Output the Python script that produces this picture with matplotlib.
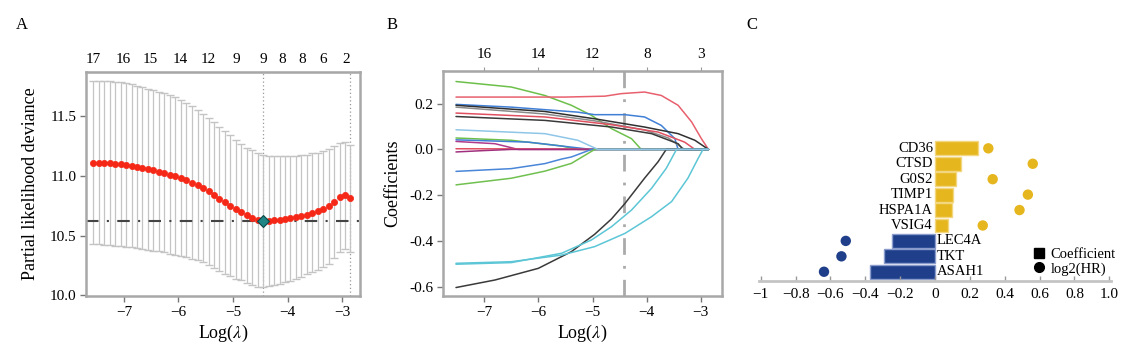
import matplotlib
matplotlib.use("Agg")
import matplotlib.pyplot as plt
import numpy as np
from matplotlib.lines import Line2D
from matplotlib.ticker import FormatStrFormatter

plt.rcParams['font.family'] = ['Liberation Serif', 'DejaVu Serif']
plt.rcParams['mathtext.fontset'] = 'stix'

# ---- panel A: cross-validation curve ----
cv_loglam = [-7.56, -7.46, -7.36, -7.26, -7.16, -7.06, -6.96, -6.86, -6.76, -6.66,
             -6.56, -6.46, -6.36, -6.26, -6.16, -6.06, -5.96, -5.86, -5.76, -5.65,
             -5.55, -5.45, -5.35, -5.25, -5.15, -5.05, -4.95, -4.85, -4.75, -4.65,
             -4.55, -4.45, -4.35, -4.25, -4.15, -4.05, -3.95, -3.85, -3.75, -3.65,
             -3.55, -3.45, -3.35, -3.25, -3.15, -3.05, -2.95, -2.85]
cv_mean = [11.11, 11.11, 11.11, 11.105, 11.10, 11.10, 11.09, 11.085, 11.075, 11.065,
           11.055, 11.045, 11.035, 11.025, 11.01, 10.997, 10.98, 10.962, 10.943, 10.922,
           10.897, 10.87, 10.84, 10.805, 10.78, 10.75, 10.72, 10.695, 10.67, 10.65,
           10.63, 10.62, 10.622, 10.627, 10.632, 10.638, 10.645, 10.653, 10.662, 10.675,
           10.69, 10.703, 10.72, 10.745, 10.78, 10.82, 10.835, 10.81]
cv_sd = [0.683, 0.684, 0.685, 0.685, 0.685, 0.685, 0.684, 0.682, 0.679, 0.676,
         0.674, 0.671, 0.668, 0.665, 0.662, 0.658, 0.652, 0.645, 0.637, 0.628,
         0.620, 0.615, 0.610, 0.605, 0.597, 0.588, 0.580, 0.570, 0.566, 0.562,
         0.558, 0.553, 0.547, 0.541, 0.535, 0.529, 0.522, 0.515, 0.508, 0.500,
         0.496, 0.491, 0.486, 0.480, 0.470, 0.455, 0.448, 0.444]
a_top_pos = [-7.56, -7.01, -6.52, -5.97, -5.46, -4.95, -4.45, -4.10, -3.73, -3.35, -2.92]
a_top_lab = ['17', '16', '15', '14', '12', '9', '9', '8', '8', '6', '2']

# ---- panel B: coefficient paths (log lambda knots, coefficient) ----
green1_x = [-7.52, -6.5, -5.88, -5.39, -5.02, -4.65, -4.28, -4.10, -2.86]
green1_y = [0.297, 0.273, 0.236, 0.193, 0.149, 0.091, 0.047, 0.0, 0.0]
red1_x = [-7.52, -5.5, -4.77, -4.47, -4.04, -3.73, -3.42, -3.17, -2.99, -2.86]
red1_y = [0.229, 0.229, 0.233, 0.244, 0.251, 0.236, 0.193, 0.12, 0.047, 0.0]
blue1_x = [-7.52, -6.5, -5.27, -4.96, -4.40, -4.04, -3.73, -3.48, -3.42, -2.86]
blue1_y = [0.197, 0.185, 0.163, 0.152, 0.152, 0.142, 0.105, 0.047, 0.0, 0.0]
black1_x = [-7.52, -5.88, -4.96, -4.04, -3.42, -3.11, -2.86]
black1_y = [0.193, 0.166, 0.134, 0.098, 0.069, 0.04, 0.0]
gray1_x = [-7.52, -5.88, -4.96, -4.04, -3.6, -3.30, -2.86]
gray1_y = [0.185, 0.155, 0.125, 0.085, 0.05, 0.0, 0.0]
red2_x = [-7.52, -5.88, -4.65, -3.79, -3.30, -3.11, -2.86]
red2_y = [0.159, 0.142, 0.108, 0.076, 0.032, 0.0, 0.0]
black2_x = [-7.52, -5.88, -4.65, -3.91, -3.42, -3.33, -2.86]
black2_y = [0.144, 0.127, 0.098, 0.069, 0.025, 0.0, 0.0]
green2_x = [-7.52, -6.5, -5.57, -5.27, -2.86]
green2_y = [0.05, 0.04, 0.015, 0.0, 0.0]
blue2_x = [-7.52, -6.19, -5.39, -5.02, -2.86]
blue2_y = [0.042, 0.032, 0.01, 0.0, 0.0]
magenta1_x = [-7.52, -6.80, -6.37, -2.86]
magenta1_y = [0.035, 0.025, 0.0, 0.0]
red3_x = [-7.52, -5.5, -5.0]
red3_y = [0.003, 0.002, 0.0]
magenta2_x = [-7.52, -7.0, -6.5, -2.86]
magenta2_y = [-0.011, -0.005, 0.0, 0.0]
blue3_x = [-7.52, -6.5, -5.88, -5.57, -5.39, -5.02, -2.86]
blue3_y = [-0.096, -0.084, -0.062, -0.042, -0.033, 0.0, 0.0]
green3_x = [-7.52, -6.5, -5.88, -5.39, -5.08, -4.96, -2.86]
green3_y = [-0.155, -0.126, -0.095, -0.061, -0.017, 0.0, 0.0]
black3_x = [-7.52, -6.80, -6.0, -5.39, -4.96, -4.65, -4.40, -4.04, -3.79, -3.64, -2.86]
black3_y = [-0.604, -0.571, -0.52, -0.447, -0.371, -0.304, -0.236, -0.126, -0.054, 0.0, 0.0]
cyan2_x = [-7.52, -6.5, -5.57, -4.96, -4.40, -3.91, -3.54, -3.24, -3.05, -2.96, -2.86]
cyan2_y = [-0.498, -0.491, -0.462, -0.425, -0.367, -0.294, -0.228, -0.126, -0.039, 0.0, 0.0]
cyan3_x = [-7.52, -6.5, -5.57, -5.02, -4.65, -4.28, -3.91, -3.64, -3.45, -2.86]
cyan3_y = [-0.502, -0.495, -0.454, -0.396, -0.338, -0.265, -0.170, -0.083, 0.0, 0.0]
cyan1_x = [-7.52, -5.88, -5.27, -4.90, -2.86]
cyan1_y = [0.086, 0.069, 0.040, 0.0, 0.0]
b_top_pos = [-7, -6, -5, -4, -3]
b_top_lab = ['16', '14', '12', '8', '3']
b_cut = -4.42

# ---- panel C: coefficients and log2(HR) ----
genes = ['ASAH1', 'TKT', 'LEC4A', 'VSIG4', 'HSPA1A', 'TIMP1', 'G0S2', 'CTSD', 'CD36']
coef = [-0.372, -0.291, -0.249, 0.073, 0.096, 0.105, 0.121, 0.149, 0.245]
log2hr = [-0.637, -0.537, -0.512, 0.274, 0.485, 0.533, 0.331, 0.561, 0.306]
c_ticks = [-1, -0.8, -0.6, -0.4, -0.2, 0, 0.2, 0.4, 0.6, 0.8, 1.0]
c_ticklab = ['\u22121', '\u22120.8', '\u22120.6', '\u22120.4', '\u22120.2', '0',
             '0.2', '0.4', '0.6', '0.8', '1.0']

W, H = 1139, 350
fig = plt.figure(figsize=(W / 100, H / 100), dpi=100)

def frame(ax):
    for s in ax.spines.values():
        s.set_color('#a8a8a8')
        s.set_linewidth(1.8)
    ax.tick_params(labelsize=11, length=4, width=1, color='#777777', pad=3)

# A
axA = fig.add_axes([86 / W, 54 / H, 274 / W, 224 / H])
frame(axA)
x = np.array(cv_loglam)
m = np.array(cv_mean)
sd = np.array(cv_sd)
axA.errorbar(x, m, yerr=sd, fmt='none', ecolor='#c4c4c4', elinewidth=0.9,
             capsize=2.6, capthick=1.0, zorder=1)
imin = int(np.argmin(m))
ok = np.where(m <= m[imin] + sd[imin])[0]
i1se = int(ok.max())
axA.axvline(x[imin], color='#999999', lw=0.9, ls=(0, (1, 2)), zorder=0)
axA.axvline(x[i1se], color='#999999', lw=0.9, ls=(0, (1, 2)), zorder=0)
axA.axhline(m[imin], color='#444444', lw=1.5, ls=(0, (6, 4, 1, 4)), zorder=2)
axA.plot(x, m, 'o', color='#f52818', ms=4.5, mec='#f52818', mew=0.5, zorder=3)
axA.plot(x[imin], m[imin], 'D', color='#1f8585', ms=6, mec='#0e4747', mew=0.8, zorder=4)
axA.set_xlim(-7.694, -2.676)
axA.set_ylim(9.995, 11.867)
axA.set_xticks([-7, -6, -5, -4, -3])
axA.set_yticks([10.0, 10.5, 11.0, 11.5])
axA.yaxis.set_major_formatter(FormatStrFormatter('%.1f'))
axA.set_xticklabels(['\u22127', '\u22126', '\u22125', '\u22124', '\u22123'])
axA.set_xlabel(r'Log($\lambda$)', fontsize=13, labelpad=3)
axA.set_ylabel('Partial likelihood deviance', fontsize=13, labelpad=8)
topA = axA.secondary_xaxis('top')
topA.set_xticks(a_top_pos)
topA.set_xticklabels(a_top_lab)
topA.tick_params(labelsize=11, length=0, pad=4)

# B
axB = fig.add_axes([443 / W, 54 / H, 279 / W, 225 / H])
frame(axB)
paths = [
    (green1_x, green1_y, '#6cc04a'), (red1_x, red1_y, '#e8606e'),
    (blue1_x, blue1_y, '#3f7fd6'), (black1_x, black1_y, '#303030'),
    (gray1_x, gray1_y, '#8a8a8a'), (red2_x, red2_y, '#e05060'),
    (black2_x, black2_y, '#3a3a3a'), (green2_x, green2_y, '#6cc04a'),
    (blue2_x, blue2_y, '#3f7fd6'), (magenta1_x, magenta1_y, '#b03a8c'),
    (red3_x, red3_y, '#e05060'), (magenta2_x, magenta2_y, '#a0307e'),
    (blue3_x, blue3_y, '#4a86d8'), (green3_x, green3_y, '#70c050'),
    (black3_x, black3_y, '#3a3a3a'), (cyan2_x, cyan2_y, '#5cc6d6'),
    (cyan3_x, cyan3_y, '#5cc6d6'), (cyan1_x, cyan1_y, '#8fc6e8'),
]
for px, py, col in paths:
    axB.plot(px, py, color=col, lw=1.1, solid_capstyle='round')
axB.axvline(b_cut, color='#aaaaaa', lw=2, ls=(0, (6, 4, 1, 4)), zorder=0)
axB.set_xlim(-7.76, -2.61)
axB.set_ylim(-0.641, 0.343)
axB.set_xticks([-7, -6, -5, -4, -3])
axB.set_xticklabels(['\u22127', '\u22126', '\u22125', '\u22124', '\u22123'])
axB.set_yticks([-0.6, -0.4, -0.2, 0.0, 0.2])
axB.yaxis.set_major_formatter(FormatStrFormatter('%.1f'))
axB.set_xlabel(r'Log($\lambda$)', fontsize=13, labelpad=3)
axB.set_ylabel('Coefficients', fontsize=13, labelpad=6)
topB = axB.secondary_xaxis('top')
topB.set_xticks(b_top_pos)
topB.set_xticklabels(b_top_lab)
topB.tick_params(labelsize=11, length=3, color='#999999', pad=4)

# C
axC = fig.add_axes([759 / W, (H - 280.7) / H, 352 / W, (280.7 - 138) / H])
pos = np.arange(len(genes))
cols = ['#1f3f8a' if v < 0 else '#e6b61e' for v in coef]
edges = ['#8a9ccc' if v < 0 else '#f2d680' for v in coef]
axC.barh(pos, coef, height=0.9, color=cols, edgecolor=edges, linewidth=1)
axC.scatter(log2hr, pos, s=56, color=cols, zorder=3, edgecolors='none')
for i, g in enumerate(genes):
    if coef[i] > 0:
        axC.annotate(g, (0, pos[i]), xytext=(-1.5, 0), textcoords='offset points',
                     ha='right', va='center', fontsize=10.5)
    else:
        axC.annotate(g, (0, pos[i]), xytext=(1.5, 0), textcoords='offset points',
                     ha='left', va='center', fontsize=10.5)
axC.set_xlim(-1.01, 1.01)
axC.set_ylim(-0.58, 8.67)
for s in ['left', 'right', 'top']:
    axC.spines[s].set_visible(False)
axC.spines['bottom'].set_color('#c4c4c4')
axC.spines['bottom'].set_linewidth(2)
axC.set_yticks([])
axC.set_xticks(c_ticks)
axC.set_xticklabels(c_ticklab)
axC.tick_params(axis='x', direction='in', length=3.5, width=1, color='#999999',
                labelsize=11, pad=5)
handles = [Line2D([], [], marker='s', ls='none', color='black', ms=7),
           Line2D([], [], marker='o', ls='none', color='black', ms=7)]
axC.legend(handles, ['Coefficient', 'log2(HR)'], loc='lower left',
           bbox_to_anchor=(0.782, 0.035), frameon=False, fontsize=10.5,
           handlelength=0.7, handletextpad=0.4, labelspacing=0.05,
           borderpad=0, borderaxespad=0)

for lab, px in [('A', 22), ('B', 392), ('C', 752)]:
    fig.text(px / W, 1 - 25 / H, lab, ha='center', va='center', fontsize=12)

fig.savefig('out.png', dpi=100)
